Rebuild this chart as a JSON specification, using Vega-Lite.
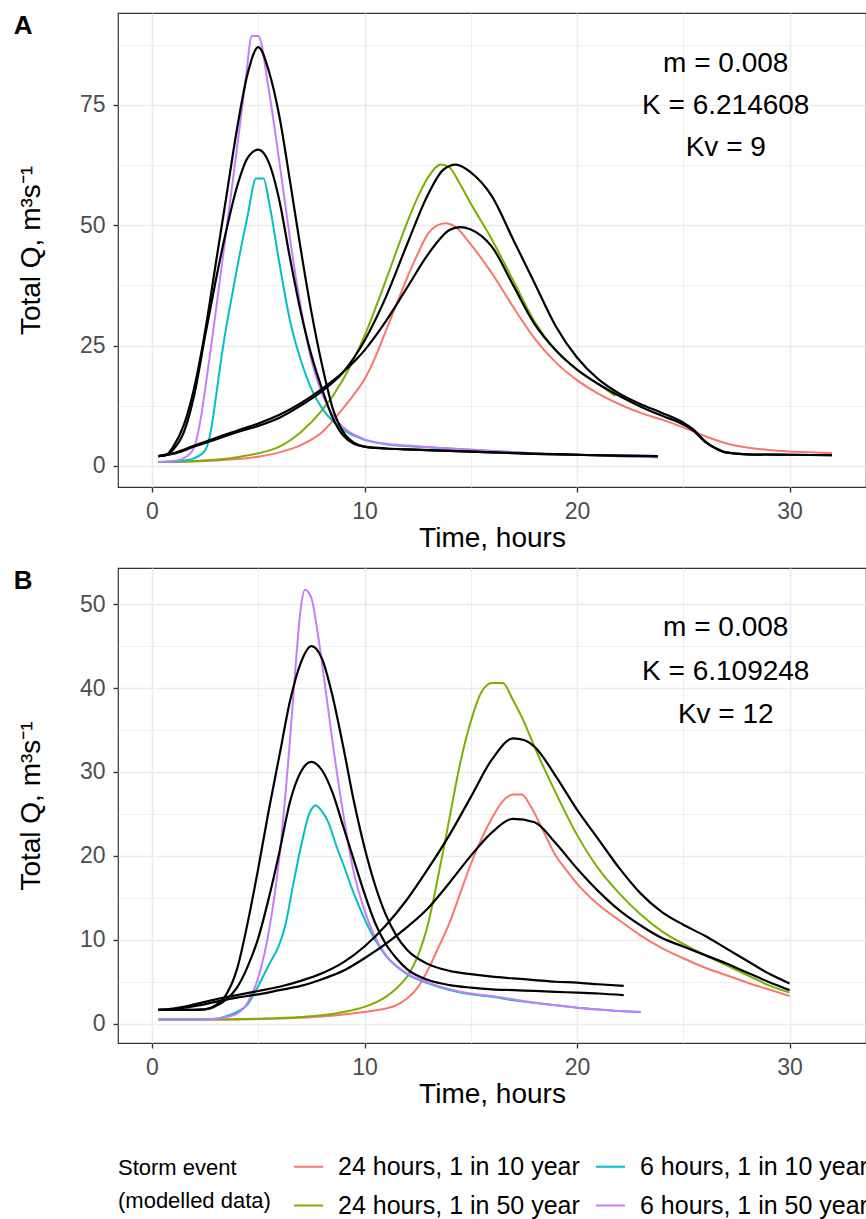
{
  "$schema": "https://vega.github.io/schema/vega-lite/v6.json",
  "background": "white",
  "padding": {"left": 13, "top": 12, "right": 0, "bottom": 0},
  "spacing": 14,
  "config": {
    "font": "Liberation Sans",
    "view": {"stroke": "#333333", "strokeWidth": 1.2},
    "axis": {
      "domain": false,
      "labelFontSize": 23,
      "labelColor": "#4D4D4D",
      "labelFont": "Liberation Sans",
      "titleFontSize": 28,
      "titleFontWeight": "normal",
      "titleColor": "black",
      "titleFont": "Liberation Sans",
      "tickColor": "#333333",
      "tickSize": 5,
      "tickWidth": 1.4,
      "labelPadding": 8,
      "gridColor": "#EBEBEB"
    },
    "legend": {"labelFont": "Liberation Sans", "titleFont": "Liberation Sans"}
  },
  "resolve": {"scale": {"color": "shared"}},
  "datasets": {
    "a": [
      {"kind": "modelled", "storm": "24 hours, 1 in 10 year", "t": 0.3, "q": 0.8},
      {"kind": "modelled", "storm": "24 hours, 1 in 10 year", "t": 2, "q": 0.9},
      {"kind": "modelled", "storm": "24 hours, 1 in 10 year", "t": 4, "q": 1.4},
      {"kind": "modelled", "storm": "24 hours, 1 in 10 year", "t": 5, "q": 1.9},
      {"kind": "modelled", "storm": "24 hours, 1 in 10 year", "t": 6, "q": 2.8},
      {"kind": "modelled", "storm": "24 hours, 1 in 10 year", "t": 7, "q": 4.3},
      {"kind": "modelled", "storm": "24 hours, 1 in 10 year", "t": 8, "q": 7},
      {"kind": "modelled", "storm": "24 hours, 1 in 10 year", "t": 9, "q": 12},
      {"kind": "modelled", "storm": "24 hours, 1 in 10 year", "t": 9.5, "q": 14.8},
      {"kind": "modelled", "storm": "24 hours, 1 in 10 year", "t": 10, "q": 18},
      {"kind": "modelled", "storm": "24 hours, 1 in 10 year", "t": 10.5, "q": 22.5},
      {"kind": "modelled", "storm": "24 hours, 1 in 10 year", "t": 11, "q": 28},
      {"kind": "modelled", "storm": "24 hours, 1 in 10 year", "t": 11.5, "q": 33.5},
      {"kind": "modelled", "storm": "24 hours, 1 in 10 year", "t": 12, "q": 39},
      {"kind": "modelled", "storm": "24 hours, 1 in 10 year", "t": 12.5, "q": 44},
      {"kind": "modelled", "storm": "24 hours, 1 in 10 year", "t": 13, "q": 48.3},
      {"kind": "modelled", "storm": "24 hours, 1 in 10 year", "t": 13.4, "q": 49.9},
      {"kind": "modelled", "storm": "24 hours, 1 in 10 year", "t": 13.8, "q": 50.4},
      {"kind": "modelled", "storm": "24 hours, 1 in 10 year", "t": 14.3, "q": 49.6},
      {"kind": "modelled", "storm": "24 hours, 1 in 10 year", "t": 15, "q": 46},
      {"kind": "modelled", "storm": "24 hours, 1 in 10 year", "t": 16, "q": 40},
      {"kind": "modelled", "storm": "24 hours, 1 in 10 year", "t": 17, "q": 33},
      {"kind": "modelled", "storm": "24 hours, 1 in 10 year", "t": 18, "q": 26.5},
      {"kind": "modelled", "storm": "24 hours, 1 in 10 year", "t": 19, "q": 21.5},
      {"kind": "modelled", "storm": "24 hours, 1 in 10 year", "t": 20, "q": 17.8},
      {"kind": "modelled", "storm": "24 hours, 1 in 10 year", "t": 21, "q": 15},
      {"kind": "modelled", "storm": "24 hours, 1 in 10 year", "t": 22, "q": 12.8},
      {"kind": "modelled", "storm": "24 hours, 1 in 10 year", "t": 23, "q": 11},
      {"kind": "modelled", "storm": "24 hours, 1 in 10 year", "t": 24, "q": 9.6},
      {"kind": "modelled", "storm": "24 hours, 1 in 10 year", "t": 25, "q": 8},
      {"kind": "modelled", "storm": "24 hours, 1 in 10 year", "t": 26, "q": 6.2},
      {"kind": "modelled", "storm": "24 hours, 1 in 10 year", "t": 27, "q": 4.7},
      {"kind": "modelled", "storm": "24 hours, 1 in 10 year", "t": 28, "q": 3.8},
      {"kind": "modelled", "storm": "24 hours, 1 in 10 year", "t": 29, "q": 3.3},
      {"kind": "modelled", "storm": "24 hours, 1 in 10 year", "t": 30, "q": 3.0},
      {"kind": "modelled", "storm": "24 hours, 1 in 10 year", "t": 31, "q": 2.8},
      {"kind": "modelled", "storm": "24 hours, 1 in 10 year", "t": 32, "q": 2.6},

      {"kind": "modelled", "storm": "24 hours, 1 in 50 year", "t": 0.3, "q": 0.8},
      {"kind": "modelled", "storm": "24 hours, 1 in 50 year", "t": 2, "q": 1.0},
      {"kind": "modelled", "storm": "24 hours, 1 in 50 year", "t": 4, "q": 1.8},
      {"kind": "modelled", "storm": "24 hours, 1 in 50 year", "t": 5, "q": 2.6},
      {"kind": "modelled", "storm": "24 hours, 1 in 50 year", "t": 6, "q": 4},
      {"kind": "modelled", "storm": "24 hours, 1 in 50 year", "t": 7, "q": 7},
      {"kind": "modelled", "storm": "24 hours, 1 in 50 year", "t": 8, "q": 11.5},
      {"kind": "modelled", "storm": "24 hours, 1 in 50 year", "t": 9, "q": 18},
      {"kind": "modelled", "storm": "24 hours, 1 in 50 year", "t": 10, "q": 27},
      {"kind": "modelled", "storm": "24 hours, 1 in 50 year", "t": 11, "q": 38.5},
      {"kind": "modelled", "storm": "24 hours, 1 in 50 year", "t": 12, "q": 50.5},
      {"kind": "modelled", "storm": "24 hours, 1 in 50 year", "t": 12.5, "q": 55.8},
      {"kind": "modelled", "storm": "24 hours, 1 in 50 year", "t": 13, "q": 60},
      {"kind": "modelled", "storm": "24 hours, 1 in 50 year", "t": 13.6, "q": 62.6},
      {"kind": "modelled", "storm": "24 hours, 1 in 50 year", "t": 14, "q": 62},
      {"kind": "modelled", "storm": "24 hours, 1 in 50 year", "t": 14.5, "q": 58.5},
      {"kind": "modelled", "storm": "24 hours, 1 in 50 year", "t": 15, "q": 54.5},
      {"kind": "modelled", "storm": "24 hours, 1 in 50 year", "t": 16, "q": 47},
      {"kind": "modelled", "storm": "24 hours, 1 in 50 year", "t": 17, "q": 38.5},
      {"kind": "modelled", "storm": "24 hours, 1 in 50 year", "t": 18, "q": 30},
      {"kind": "modelled", "storm": "24 hours, 1 in 50 year", "t": 19, "q": 24},
      {"kind": "modelled", "storm": "24 hours, 1 in 50 year", "t": 20, "q": 20},
      {"kind": "modelled", "storm": "24 hours, 1 in 50 year", "t": 21, "q": 17},
      {"kind": "modelled", "storm": "24 hours, 1 in 50 year", "t": 21.8, "q": 14.5},

      {"kind": "modelled", "storm": "6 hours, 1 in 10 year", "t": 0.3, "q": 0.8},
      {"kind": "modelled", "storm": "6 hours, 1 in 10 year", "t": 1, "q": 0.9},
      {"kind": "modelled", "storm": "6 hours, 1 in 10 year", "t": 1.5, "q": 1.1},
      {"kind": "modelled", "storm": "6 hours, 1 in 10 year", "t": 2, "q": 1.6},
      {"kind": "modelled", "storm": "6 hours, 1 in 10 year", "t": 2.5, "q": 3.2},
      {"kind": "modelled", "storm": "6 hours, 1 in 10 year", "t": 2.8, "q": 8},
      {"kind": "modelled", "storm": "6 hours, 1 in 10 year", "t": 3, "q": 14},
      {"kind": "modelled", "storm": "6 hours, 1 in 10 year", "t": 3.25, "q": 22},
      {"kind": "modelled", "storm": "6 hours, 1 in 10 year", "t": 3.5, "q": 29},
      {"kind": "modelled", "storm": "6 hours, 1 in 10 year", "t": 3.75, "q": 35},
      {"kind": "modelled", "storm": "6 hours, 1 in 10 year", "t": 4, "q": 41},
      {"kind": "modelled", "storm": "6 hours, 1 in 10 year", "t": 4.5, "q": 52},
      {"kind": "modelled", "storm": "6 hours, 1 in 10 year", "t": 4.9, "q": 59.7},
      {"kind": "modelled", "storm": "6 hours, 1 in 10 year", "t": 5.25, "q": 59.7},
      {"kind": "modelled", "storm": "6 hours, 1 in 10 year", "t": 5.5, "q": 55},
      {"kind": "modelled", "storm": "6 hours, 1 in 10 year", "t": 6, "q": 42},
      {"kind": "modelled", "storm": "6 hours, 1 in 10 year", "t": 6.5, "q": 30},
      {"kind": "modelled", "storm": "6 hours, 1 in 10 year", "t": 7, "q": 22},
      {"kind": "modelled", "storm": "6 hours, 1 in 10 year", "t": 7.5, "q": 16},
      {"kind": "modelled", "storm": "6 hours, 1 in 10 year", "t": 8, "q": 12},
      {"kind": "modelled", "storm": "6 hours, 1 in 10 year", "t": 8.5, "q": 9.3},
      {"kind": "modelled", "storm": "6 hours, 1 in 10 year", "t": 9, "q": 7.5},
      {"kind": "modelled", "storm": "6 hours, 1 in 10 year", "t": 10, "q": 5.4},
      {"kind": "modelled", "storm": "6 hours, 1 in 10 year", "t": 11, "q": 4.5},
      {"kind": "modelled", "storm": "6 hours, 1 in 10 year", "t": 12, "q": 4.1},
      {"kind": "modelled", "storm": "6 hours, 1 in 10 year", "t": 14, "q": 3.6},
      {"kind": "modelled", "storm": "6 hours, 1 in 10 year", "t": 16, "q": 3.1},
      {"kind": "modelled", "storm": "6 hours, 1 in 10 year", "t": 18, "q": 2.6},
      {"kind": "modelled", "storm": "6 hours, 1 in 10 year", "t": 20, "q": 2.3},
      {"kind": "modelled", "storm": "6 hours, 1 in 10 year", "t": 22, "q": 2.0},
      {"kind": "modelled", "storm": "6 hours, 1 in 10 year", "t": 23.8, "q": 1.8},

      {"kind": "modelled", "storm": "6 hours, 1 in 50 year", "t": 0.3, "q": 0.8},
      {"kind": "modelled", "storm": "6 hours, 1 in 50 year", "t": 1, "q": 1.0},
      {"kind": "modelled", "storm": "6 hours, 1 in 50 year", "t": 1.5, "q": 1.6},
      {"kind": "modelled", "storm": "6 hours, 1 in 50 year", "t": 2, "q": 4},
      {"kind": "modelled", "storm": "6 hours, 1 in 50 year", "t": 2.3, "q": 10},
      {"kind": "modelled", "storm": "6 hours, 1 in 50 year", "t": 2.6, "q": 19},
      {"kind": "modelled", "storm": "6 hours, 1 in 50 year", "t": 3, "q": 32},
      {"kind": "modelled", "storm": "6 hours, 1 in 50 year", "t": 3.5, "q": 49},
      {"kind": "modelled", "storm": "6 hours, 1 in 50 year", "t": 4, "q": 66},
      {"kind": "modelled", "storm": "6 hours, 1 in 50 year", "t": 4.4, "q": 80},
      {"kind": "modelled", "storm": "6 hours, 1 in 50 year", "t": 4.7, "q": 89.3},
      {"kind": "modelled", "storm": "6 hours, 1 in 50 year", "t": 5.0, "q": 89.3},
      {"kind": "modelled", "storm": "6 hours, 1 in 50 year", "t": 5.5, "q": 78},
      {"kind": "modelled", "storm": "6 hours, 1 in 50 year", "t": 6, "q": 63},
      {"kind": "modelled", "storm": "6 hours, 1 in 50 year", "t": 6.5, "q": 47},
      {"kind": "modelled", "storm": "6 hours, 1 in 50 year", "t": 7, "q": 33},
      {"kind": "modelled", "storm": "6 hours, 1 in 50 year", "t": 7.5, "q": 22},
      {"kind": "modelled", "storm": "6 hours, 1 in 50 year", "t": 8, "q": 15},
      {"kind": "modelled", "storm": "6 hours, 1 in 50 year", "t": 8.5, "q": 10.5},
      {"kind": "modelled", "storm": "6 hours, 1 in 50 year", "t": 9, "q": 8},
      {"kind": "modelled", "storm": "6 hours, 1 in 50 year", "t": 10, "q": 5.5},
      {"kind": "modelled", "storm": "6 hours, 1 in 50 year", "t": 11, "q": 4.6},
      {"kind": "modelled", "storm": "6 hours, 1 in 50 year", "t": 12, "q": 4.2},
      {"kind": "modelled", "storm": "6 hours, 1 in 50 year", "t": 14, "q": 3.6},
      {"kind": "modelled", "storm": "6 hours, 1 in 50 year", "t": 16, "q": 3.1},
      {"kind": "modelled", "storm": "6 hours, 1 in 50 year", "t": 18, "q": 2.6},
      {"kind": "modelled", "storm": "6 hours, 1 in 50 year", "t": 20, "q": 2.3},
      {"kind": "modelled", "storm": "6 hours, 1 in 50 year", "t": 22, "q": 2.0},
      {"kind": "modelled", "storm": "6 hours, 1 in 50 year", "t": 23.8, "q": 1.8},

      {"kind": "fit", "storm": "6 hours, 1 in 50 year", "t": 0.3, "q": 2.0},
      {"kind": "fit", "storm": "6 hours, 1 in 50 year", "t": 0.7, "q": 2.4},
      {"kind": "fit", "storm": "6 hours, 1 in 50 year", "t": 1, "q": 4.0},
      {"kind": "fit", "storm": "6 hours, 1 in 50 year", "t": 1.5, "q": 8.5},
      {"kind": "fit", "storm": "6 hours, 1 in 50 year", "t": 2, "q": 16.5},
      {"kind": "fit", "storm": "6 hours, 1 in 50 year", "t": 2.5, "q": 28},
      {"kind": "fit", "storm": "6 hours, 1 in 50 year", "t": 3, "q": 42},
      {"kind": "fit", "storm": "6 hours, 1 in 50 year", "t": 3.5, "q": 56},
      {"kind": "fit", "storm": "6 hours, 1 in 50 year", "t": 4, "q": 70},
      {"kind": "fit", "storm": "6 hours, 1 in 50 year", "t": 4.5, "q": 81.5},
      {"kind": "fit", "storm": "6 hours, 1 in 50 year", "t": 5, "q": 87},
      {"kind": "fit", "storm": "6 hours, 1 in 50 year", "t": 5.5, "q": 82},
      {"kind": "fit", "storm": "6 hours, 1 in 50 year", "t": 6, "q": 72.5},
      {"kind": "fit", "storm": "6 hours, 1 in 50 year", "t": 6.5, "q": 59},
      {"kind": "fit", "storm": "6 hours, 1 in 50 year", "t": 7, "q": 45},
      {"kind": "fit", "storm": "6 hours, 1 in 50 year", "t": 7.5, "q": 32},
      {"kind": "fit", "storm": "6 hours, 1 in 50 year", "t": 8, "q": 21},
      {"kind": "fit", "storm": "6 hours, 1 in 50 year", "t": 8.5, "q": 12},
      {"kind": "fit", "storm": "6 hours, 1 in 50 year", "t": 9, "q": 7},
      {"kind": "fit", "storm": "6 hours, 1 in 50 year", "t": 9.5, "q": 4.8},
      {"kind": "fit", "storm": "6 hours, 1 in 50 year", "t": 10, "q": 4.0},
      {"kind": "fit", "storm": "6 hours, 1 in 50 year", "t": 11, "q": 3.6},
      {"kind": "fit", "storm": "6 hours, 1 in 50 year", "t": 12, "q": 3.4},
      {"kind": "fit", "storm": "6 hours, 1 in 50 year", "t": 14, "q": 3.1},
      {"kind": "fit", "storm": "6 hours, 1 in 50 year", "t": 16, "q": 2.8},
      {"kind": "fit", "storm": "6 hours, 1 in 50 year", "t": 18, "q": 2.5},
      {"kind": "fit", "storm": "6 hours, 1 in 50 year", "t": 20, "q": 2.3},
      {"kind": "fit", "storm": "6 hours, 1 in 50 year", "t": 22, "q": 2.1},
      {"kind": "fit", "storm": "6 hours, 1 in 50 year", "t": 23.8, "q": 2.0},

      {"kind": "fit", "storm": "6 hours, 1 in 10 year", "t": 0.3, "q": 2.0},
      {"kind": "fit", "storm": "6 hours, 1 in 10 year", "t": 0.7, "q": 2.3},
      {"kind": "fit", "storm": "6 hours, 1 in 10 year", "t": 1, "q": 3.4},
      {"kind": "fit", "storm": "6 hours, 1 in 10 year", "t": 1.5, "q": 7},
      {"kind": "fit", "storm": "6 hours, 1 in 10 year", "t": 2, "q": 15},
      {"kind": "fit", "storm": "6 hours, 1 in 10 year", "t": 2.5, "q": 27},
      {"kind": "fit", "storm": "6 hours, 1 in 10 year", "t": 3, "q": 38.5},
      {"kind": "fit", "storm": "6 hours, 1 in 10 year", "t": 3.5, "q": 49},
      {"kind": "fit", "storm": "6 hours, 1 in 10 year", "t": 4, "q": 58},
      {"kind": "fit", "storm": "6 hours, 1 in 10 year", "t": 4.5, "q": 64},
      {"kind": "fit", "storm": "6 hours, 1 in 10 year", "t": 5, "q": 65.7},
      {"kind": "fit", "storm": "6 hours, 1 in 10 year", "t": 5.5, "q": 63},
      {"kind": "fit", "storm": "6 hours, 1 in 10 year", "t": 6, "q": 55},
      {"kind": "fit", "storm": "6 hours, 1 in 10 year", "t": 6.5, "q": 43},
      {"kind": "fit", "storm": "6 hours, 1 in 10 year", "t": 7, "q": 32},
      {"kind": "fit", "storm": "6 hours, 1 in 10 year", "t": 7.5, "q": 23},
      {"kind": "fit", "storm": "6 hours, 1 in 10 year", "t": 8, "q": 16},
      {"kind": "fit", "storm": "6 hours, 1 in 10 year", "t": 8.5, "q": 10},
      {"kind": "fit", "storm": "6 hours, 1 in 10 year", "t": 9, "q": 6.3},
      {"kind": "fit", "storm": "6 hours, 1 in 10 year", "t": 9.5, "q": 4.6},
      {"kind": "fit", "storm": "6 hours, 1 in 10 year", "t": 10, "q": 4.0},
      {"kind": "fit", "storm": "6 hours, 1 in 10 year", "t": 11, "q": 3.6},
      {"kind": "fit", "storm": "6 hours, 1 in 10 year", "t": 12, "q": 3.4},
      {"kind": "fit", "storm": "6 hours, 1 in 10 year", "t": 14, "q": 3.1},
      {"kind": "fit", "storm": "6 hours, 1 in 10 year", "t": 16, "q": 2.8},
      {"kind": "fit", "storm": "6 hours, 1 in 10 year", "t": 18, "q": 2.5},
      {"kind": "fit", "storm": "6 hours, 1 in 10 year", "t": 20, "q": 2.3},
      {"kind": "fit", "storm": "6 hours, 1 in 10 year", "t": 22, "q": 2.1},
      {"kind": "fit", "storm": "6 hours, 1 in 10 year", "t": 23.8, "q": 2.0},

      {"kind": "fit", "storm": "24 hours, 1 in 50 year", "t": 0.3, "q": 2.0},
      {"kind": "fit", "storm": "24 hours, 1 in 50 year", "t": 1, "q": 2.5},
      {"kind": "fit", "storm": "24 hours, 1 in 50 year", "t": 2, "q": 4},
      {"kind": "fit", "storm": "24 hours, 1 in 50 year", "t": 3, "q": 5.5},
      {"kind": "fit", "storm": "24 hours, 1 in 50 year", "t": 4, "q": 7},
      {"kind": "fit", "storm": "24 hours, 1 in 50 year", "t": 5, "q": 8.3},
      {"kind": "fit", "storm": "24 hours, 1 in 50 year", "t": 6, "q": 10},
      {"kind": "fit", "storm": "24 hours, 1 in 50 year", "t": 7, "q": 12.5},
      {"kind": "fit", "storm": "24 hours, 1 in 50 year", "t": 8, "q": 15.5},
      {"kind": "fit", "storm": "24 hours, 1 in 50 year", "t": 9, "q": 19.5},
      {"kind": "fit", "storm": "24 hours, 1 in 50 year", "t": 10, "q": 26},
      {"kind": "fit", "storm": "24 hours, 1 in 50 year", "t": 11, "q": 35},
      {"kind": "fit", "storm": "24 hours, 1 in 50 year", "t": 12, "q": 46},
      {"kind": "fit", "storm": "24 hours, 1 in 50 year", "t": 13, "q": 56.5},
      {"kind": "fit", "storm": "24 hours, 1 in 50 year", "t": 13.7, "q": 61.5},
      {"kind": "fit", "storm": "24 hours, 1 in 50 year", "t": 14.3, "q": 62.6},
      {"kind": "fit", "storm": "24 hours, 1 in 50 year", "t": 15, "q": 61},
      {"kind": "fit", "storm": "24 hours, 1 in 50 year", "t": 16, "q": 56},
      {"kind": "fit", "storm": "24 hours, 1 in 50 year", "t": 17, "q": 47},
      {"kind": "fit", "storm": "24 hours, 1 in 50 year", "t": 18, "q": 38},
      {"kind": "fit", "storm": "24 hours, 1 in 50 year", "t": 19, "q": 29},
      {"kind": "fit", "storm": "24 hours, 1 in 50 year", "t": 20, "q": 22.5},
      {"kind": "fit", "storm": "24 hours, 1 in 50 year", "t": 21, "q": 18},
      {"kind": "fit", "storm": "24 hours, 1 in 50 year", "t": 22, "q": 15},
      {"kind": "fit", "storm": "24 hours, 1 in 50 year", "t": 23, "q": 12.8},
      {"kind": "fit", "storm": "24 hours, 1 in 50 year", "t": 24, "q": 11},
      {"kind": "fit", "storm": "24 hours, 1 in 50 year", "t": 25, "q": 9},
      {"kind": "fit", "storm": "24 hours, 1 in 50 year", "t": 25.5, "q": 7.5},
      {"kind": "fit", "storm": "24 hours, 1 in 50 year", "t": 26, "q": 5.2},
      {"kind": "fit", "storm": "24 hours, 1 in 50 year", "t": 26.5, "q": 3.7},
      {"kind": "fit", "storm": "24 hours, 1 in 50 year", "t": 27, "q": 2.8},
      {"kind": "fit", "storm": "24 hours, 1 in 50 year", "t": 28, "q": 2.4},
      {"kind": "fit", "storm": "24 hours, 1 in 50 year", "t": 30, "q": 2.3},
      {"kind": "fit", "storm": "24 hours, 1 in 50 year", "t": 32, "q": 2.2},

      {"kind": "fit", "storm": "24 hours, 1 in 10 year", "t": 0.3, "q": 2.0},
      {"kind": "fit", "storm": "24 hours, 1 in 10 year", "t": 1, "q": 2.6},
      {"kind": "fit", "storm": "24 hours, 1 in 10 year", "t": 2, "q": 4.2},
      {"kind": "fit", "storm": "24 hours, 1 in 10 year", "t": 3, "q": 5.8},
      {"kind": "fit", "storm": "24 hours, 1 in 10 year", "t": 4, "q": 7.3},
      {"kind": "fit", "storm": "24 hours, 1 in 10 year", "t": 5, "q": 8.8},
      {"kind": "fit", "storm": "24 hours, 1 in 10 year", "t": 6, "q": 10.6},
      {"kind": "fit", "storm": "24 hours, 1 in 10 year", "t": 7, "q": 13},
      {"kind": "fit", "storm": "24 hours, 1 in 10 year", "t": 8, "q": 16},
      {"kind": "fit", "storm": "24 hours, 1 in 10 year", "t": 9, "q": 19.5},
      {"kind": "fit", "storm": "24 hours, 1 in 10 year", "t": 10, "q": 24},
      {"kind": "fit", "storm": "24 hours, 1 in 10 year", "t": 11, "q": 30},
      {"kind": "fit", "storm": "24 hours, 1 in 10 year", "t": 12, "q": 37},
      {"kind": "fit", "storm": "24 hours, 1 in 10 year", "t": 13, "q": 44},
      {"kind": "fit", "storm": "24 hours, 1 in 10 year", "t": 14, "q": 49},
      {"kind": "fit", "storm": "24 hours, 1 in 10 year", "t": 14.5, "q": 49.6},
      {"kind": "fit", "storm": "24 hours, 1 in 10 year", "t": 15, "q": 49.1},
      {"kind": "fit", "storm": "24 hours, 1 in 10 year", "t": 15.5, "q": 47.8},
      {"kind": "fit", "storm": "24 hours, 1 in 10 year", "t": 16, "q": 45.5},
      {"kind": "fit", "storm": "24 hours, 1 in 10 year", "t": 17, "q": 37.5},
      {"kind": "fit", "storm": "24 hours, 1 in 10 year", "t": 18, "q": 29.5},
      {"kind": "fit", "storm": "24 hours, 1 in 10 year", "t": 19, "q": 24},
      {"kind": "fit", "storm": "24 hours, 1 in 10 year", "t": 20, "q": 20},
      {"kind": "fit", "storm": "24 hours, 1 in 10 year", "t": 21, "q": 17},
      {"kind": "fit", "storm": "24 hours, 1 in 10 year", "t": 22, "q": 14.5},
      {"kind": "fit", "storm": "24 hours, 1 in 10 year", "t": 23, "q": 12.3},
      {"kind": "fit", "storm": "24 hours, 1 in 10 year", "t": 24, "q": 10.4},
      {"kind": "fit", "storm": "24 hours, 1 in 10 year", "t": 25, "q": 8.6},
      {"kind": "fit", "storm": "24 hours, 1 in 10 year", "t": 25.5, "q": 7.2},
      {"kind": "fit", "storm": "24 hours, 1 in 10 year", "t": 26, "q": 5.1},
      {"kind": "fit", "storm": "24 hours, 1 in 10 year", "t": 26.5, "q": 3.7},
      {"kind": "fit", "storm": "24 hours, 1 in 10 year", "t": 27, "q": 2.8},
      {"kind": "fit", "storm": "24 hours, 1 in 10 year", "t": 28, "q": 2.4},
      {"kind": "fit", "storm": "24 hours, 1 in 10 year", "t": 30, "q": 2.3},
      {"kind": "fit", "storm": "24 hours, 1 in 10 year", "t": 32, "q": 2.2}
    ],
    "b": [
      {"kind": "modelled", "storm": "24 hours, 1 in 10 year", "t": 0.3, "q": 0.5},
      {"kind": "modelled", "storm": "24 hours, 1 in 10 year", "t": 3, "q": 0.5},
      {"kind": "modelled", "storm": "24 hours, 1 in 10 year", "t": 5, "q": 0.55},
      {"kind": "modelled", "storm": "24 hours, 1 in 10 year", "t": 7, "q": 0.7},
      {"kind": "modelled", "storm": "24 hours, 1 in 10 year", "t": 8, "q": 0.85},
      {"kind": "modelled", "storm": "24 hours, 1 in 10 year", "t": 9, "q": 1.1},
      {"kind": "modelled", "storm": "24 hours, 1 in 10 year", "t": 10, "q": 1.4},
      {"kind": "modelled", "storm": "24 hours, 1 in 10 year", "t": 11, "q": 1.8},
      {"kind": "modelled", "storm": "24 hours, 1 in 10 year", "t": 11.5, "q": 2.2},
      {"kind": "modelled", "storm": "24 hours, 1 in 10 year", "t": 12, "q": 3.0},
      {"kind": "modelled", "storm": "24 hours, 1 in 10 year", "t": 12.5, "q": 4.3},
      {"kind": "modelled", "storm": "24 hours, 1 in 10 year", "t": 13, "q": 6.5},
      {"kind": "modelled", "storm": "24 hours, 1 in 10 year", "t": 13.5, "q": 9.2},
      {"kind": "modelled", "storm": "24 hours, 1 in 10 year", "t": 14, "q": 12},
      {"kind": "modelled", "storm": "24 hours, 1 in 10 year", "t": 14.5, "q": 15.5},
      {"kind": "modelled", "storm": "24 hours, 1 in 10 year", "t": 15, "q": 19},
      {"kind": "modelled", "storm": "24 hours, 1 in 10 year", "t": 15.5, "q": 22},
      {"kind": "modelled", "storm": "24 hours, 1 in 10 year", "t": 16, "q": 24.5},
      {"kind": "modelled", "storm": "24 hours, 1 in 10 year", "t": 16.5, "q": 26.5},
      {"kind": "modelled", "storm": "24 hours, 1 in 10 year", "t": 17, "q": 27.3},
      {"kind": "modelled", "storm": "24 hours, 1 in 10 year", "t": 17.4, "q": 27.3},
      {"kind": "modelled", "storm": "24 hours, 1 in 10 year", "t": 17.8, "q": 26},
      {"kind": "modelled", "storm": "24 hours, 1 in 10 year", "t": 18.5, "q": 22.5},
      {"kind": "modelled", "storm": "24 hours, 1 in 10 year", "t": 19, "q": 20},
      {"kind": "modelled", "storm": "24 hours, 1 in 10 year", "t": 19.5, "q": 18.3},
      {"kind": "modelled", "storm": "24 hours, 1 in 10 year", "t": 20, "q": 16.7},
      {"kind": "modelled", "storm": "24 hours, 1 in 10 year", "t": 21, "q": 14.2},
      {"kind": "modelled", "storm": "24 hours, 1 in 10 year", "t": 22, "q": 12.3},
      {"kind": "modelled", "storm": "24 hours, 1 in 10 year", "t": 23, "q": 10.5},
      {"kind": "modelled", "storm": "24 hours, 1 in 10 year", "t": 24, "q": 9.0},
      {"kind": "modelled", "storm": "24 hours, 1 in 10 year", "t": 25, "q": 7.8},
      {"kind": "modelled", "storm": "24 hours, 1 in 10 year", "t": 26, "q": 6.7},
      {"kind": "modelled", "storm": "24 hours, 1 in 10 year", "t": 27, "q": 5.8},
      {"kind": "modelled", "storm": "24 hours, 1 in 10 year", "t": 28, "q": 4.9},
      {"kind": "modelled", "storm": "24 hours, 1 in 10 year", "t": 29, "q": 4.1},
      {"kind": "modelled", "storm": "24 hours, 1 in 10 year", "t": 30, "q": 3.3},

      {"kind": "modelled", "storm": "24 hours, 1 in 50 year", "t": 0.3, "q": 0.5},
      {"kind": "modelled", "storm": "24 hours, 1 in 50 year", "t": 3, "q": 0.5},
      {"kind": "modelled", "storm": "24 hours, 1 in 50 year", "t": 5, "q": 0.6},
      {"kind": "modelled", "storm": "24 hours, 1 in 50 year", "t": 7, "q": 0.8},
      {"kind": "modelled", "storm": "24 hours, 1 in 50 year", "t": 8, "q": 1.0},
      {"kind": "modelled", "storm": "24 hours, 1 in 50 year", "t": 9, "q": 1.4},
      {"kind": "modelled", "storm": "24 hours, 1 in 50 year", "t": 10, "q": 2.0},
      {"kind": "modelled", "storm": "24 hours, 1 in 50 year", "t": 11, "q": 3.2},
      {"kind": "modelled", "storm": "24 hours, 1 in 50 year", "t": 11.5, "q": 4.2},
      {"kind": "modelled", "storm": "24 hours, 1 in 50 year", "t": 12, "q": 5.6},
      {"kind": "modelled", "storm": "24 hours, 1 in 50 year", "t": 12.5, "q": 8},
      {"kind": "modelled", "storm": "24 hours, 1 in 50 year", "t": 13, "q": 12},
      {"kind": "modelled", "storm": "24 hours, 1 in 50 year", "t": 13.5, "q": 18},
      {"kind": "modelled", "storm": "24 hours, 1 in 50 year", "t": 14, "q": 24.5},
      {"kind": "modelled", "storm": "24 hours, 1 in 50 year", "t": 14.5, "q": 31},
      {"kind": "modelled", "storm": "24 hours, 1 in 50 year", "t": 15, "q": 36},
      {"kind": "modelled", "storm": "24 hours, 1 in 50 year", "t": 15.5, "q": 39.5},
      {"kind": "modelled", "storm": "24 hours, 1 in 50 year", "t": 16, "q": 40.6},
      {"kind": "modelled", "storm": "24 hours, 1 in 50 year", "t": 16.5, "q": 40.6},
      {"kind": "modelled", "storm": "24 hours, 1 in 50 year", "t": 17, "q": 38.5},
      {"kind": "modelled", "storm": "24 hours, 1 in 50 year", "t": 17.5, "q": 36},
      {"kind": "modelled", "storm": "24 hours, 1 in 50 year", "t": 18, "q": 33},
      {"kind": "modelled", "storm": "24 hours, 1 in 50 year", "t": 19, "q": 27.5},
      {"kind": "modelled", "storm": "24 hours, 1 in 50 year", "t": 20, "q": 22.5},
      {"kind": "modelled", "storm": "24 hours, 1 in 50 year", "t": 21, "q": 18.5},
      {"kind": "modelled", "storm": "24 hours, 1 in 50 year", "t": 22, "q": 15.5},
      {"kind": "modelled", "storm": "24 hours, 1 in 50 year", "t": 23, "q": 13},
      {"kind": "modelled", "storm": "24 hours, 1 in 50 year", "t": 24, "q": 11},
      {"kind": "modelled", "storm": "24 hours, 1 in 50 year", "t": 25, "q": 9.5},
      {"kind": "modelled", "storm": "24 hours, 1 in 50 year", "t": 26, "q": 8.2},
      {"kind": "modelled", "storm": "24 hours, 1 in 50 year", "t": 27, "q": 7},
      {"kind": "modelled", "storm": "24 hours, 1 in 50 year", "t": 28, "q": 5.8},
      {"kind": "modelled", "storm": "24 hours, 1 in 50 year", "t": 29, "q": 4.6},
      {"kind": "modelled", "storm": "24 hours, 1 in 50 year", "t": 30, "q": 3.7},

      {"kind": "modelled", "storm": "6 hours, 1 in 10 year", "t": 0.3, "q": 0.5},
      {"kind": "modelled", "storm": "6 hours, 1 in 10 year", "t": 2, "q": 0.5},
      {"kind": "modelled", "storm": "6 hours, 1 in 10 year", "t": 3, "q": 0.6},
      {"kind": "modelled", "storm": "6 hours, 1 in 10 year", "t": 3.5, "q": 0.9},
      {"kind": "modelled", "storm": "6 hours, 1 in 10 year", "t": 4, "q": 1.4},
      {"kind": "modelled", "storm": "6 hours, 1 in 10 year", "t": 4.5, "q": 2.3},
      {"kind": "modelled", "storm": "6 hours, 1 in 10 year", "t": 5, "q": 4.5},
      {"kind": "modelled", "storm": "6 hours, 1 in 10 year", "t": 5.5, "q": 7},
      {"kind": "modelled", "storm": "6 hours, 1 in 10 year", "t": 6, "q": 9.5},
      {"kind": "modelled", "storm": "6 hours, 1 in 10 year", "t": 6.3, "q": 12},
      {"kind": "modelled", "storm": "6 hours, 1 in 10 year", "t": 6.6, "q": 16},
      {"kind": "modelled", "storm": "6 hours, 1 in 10 year", "t": 7, "q": 21},
      {"kind": "modelled", "storm": "6 hours, 1 in 10 year", "t": 7.4, "q": 25},
      {"kind": "modelled", "storm": "6 hours, 1 in 10 year", "t": 7.7, "q": 26},
      {"kind": "modelled", "storm": "6 hours, 1 in 10 year", "t": 8, "q": 25.3},
      {"kind": "modelled", "storm": "6 hours, 1 in 10 year", "t": 8.3, "q": 24},
      {"kind": "modelled", "storm": "6 hours, 1 in 10 year", "t": 8.7, "q": 21},
      {"kind": "modelled", "storm": "6 hours, 1 in 10 year", "t": 9, "q": 19},
      {"kind": "modelled", "storm": "6 hours, 1 in 10 year", "t": 9.5, "q": 15.5},
      {"kind": "modelled", "storm": "6 hours, 1 in 10 year", "t": 10, "q": 12.5},
      {"kind": "modelled", "storm": "6 hours, 1 in 10 year", "t": 10.5, "q": 10},
      {"kind": "modelled", "storm": "6 hours, 1 in 10 year", "t": 11, "q": 8.1},
      {"kind": "modelled", "storm": "6 hours, 1 in 10 year", "t": 12, "q": 5.9},
      {"kind": "modelled", "storm": "6 hours, 1 in 10 year", "t": 13, "q": 4.8},
      {"kind": "modelled", "storm": "6 hours, 1 in 10 year", "t": 14, "q": 4.0},
      {"kind": "modelled", "storm": "6 hours, 1 in 10 year", "t": 15, "q": 3.5},
      {"kind": "modelled", "storm": "6 hours, 1 in 10 year", "t": 16, "q": 3.2},
      {"kind": "modelled", "storm": "6 hours, 1 in 10 year", "t": 17, "q": 2.8},
      {"kind": "modelled", "storm": "6 hours, 1 in 10 year", "t": 18, "q": 2.5},
      {"kind": "modelled", "storm": "6 hours, 1 in 10 year", "t": 19, "q": 2.2},
      {"kind": "modelled", "storm": "6 hours, 1 in 10 year", "t": 20, "q": 1.9},
      {"kind": "modelled", "storm": "6 hours, 1 in 10 year", "t": 21, "q": 1.7},
      {"kind": "modelled", "storm": "6 hours, 1 in 10 year", "t": 22, "q": 1.5},
      {"kind": "modelled", "storm": "6 hours, 1 in 10 year", "t": 23, "q": 1.4},

      {"kind": "modelled", "storm": "6 hours, 1 in 50 year", "t": 0.3, "q": 0.5},
      {"kind": "modelled", "storm": "6 hours, 1 in 50 year", "t": 2, "q": 0.5},
      {"kind": "modelled", "storm": "6 hours, 1 in 50 year", "t": 3, "q": 0.6},
      {"kind": "modelled", "storm": "6 hours, 1 in 50 year", "t": 3.5, "q": 0.8},
      {"kind": "modelled", "storm": "6 hours, 1 in 50 year", "t": 4, "q": 1.2},
      {"kind": "modelled", "storm": "6 hours, 1 in 50 year", "t": 4.5, "q": 2.5},
      {"kind": "modelled", "storm": "6 hours, 1 in 50 year", "t": 5, "q": 5.5},
      {"kind": "modelled", "storm": "6 hours, 1 in 50 year", "t": 5.5, "q": 11},
      {"kind": "modelled", "storm": "6 hours, 1 in 50 year", "t": 6, "q": 20},
      {"kind": "modelled", "storm": "6 hours, 1 in 50 year", "t": 6.5, "q": 34},
      {"kind": "modelled", "storm": "6 hours, 1 in 50 year", "t": 6.8, "q": 44},
      {"kind": "modelled", "storm": "6 hours, 1 in 50 year", "t": 7.0, "q": 49.5},
      {"kind": "modelled", "storm": "6 hours, 1 in 50 year", "t": 7.2, "q": 51.7},
      {"kind": "modelled", "storm": "6 hours, 1 in 50 year", "t": 7.5, "q": 50.7},
      {"kind": "modelled", "storm": "6 hours, 1 in 50 year", "t": 7.8, "q": 46.5},
      {"kind": "modelled", "storm": "6 hours, 1 in 50 year", "t": 8, "q": 43},
      {"kind": "modelled", "storm": "6 hours, 1 in 50 year", "t": 8.5, "q": 33.5},
      {"kind": "modelled", "storm": "6 hours, 1 in 50 year", "t": 9, "q": 25},
      {"kind": "modelled", "storm": "6 hours, 1 in 50 year", "t": 9.5, "q": 18},
      {"kind": "modelled", "storm": "6 hours, 1 in 50 year", "t": 10, "q": 13.5},
      {"kind": "modelled", "storm": "6 hours, 1 in 50 year", "t": 10.5, "q": 10.3},
      {"kind": "modelled", "storm": "6 hours, 1 in 50 year", "t": 11, "q": 8.2},
      {"kind": "modelled", "storm": "6 hours, 1 in 50 year", "t": 12, "q": 6},
      {"kind": "modelled", "storm": "6 hours, 1 in 50 year", "t": 13, "q": 4.9},
      {"kind": "modelled", "storm": "6 hours, 1 in 50 year", "t": 14, "q": 4.1},
      {"kind": "modelled", "storm": "6 hours, 1 in 50 year", "t": 15, "q": 3.6},
      {"kind": "modelled", "storm": "6 hours, 1 in 50 year", "t": 16, "q": 3.3},
      {"kind": "modelled", "storm": "6 hours, 1 in 50 year", "t": 17, "q": 2.9},
      {"kind": "modelled", "storm": "6 hours, 1 in 50 year", "t": 18, "q": 2.5},
      {"kind": "modelled", "storm": "6 hours, 1 in 50 year", "t": 19, "q": 2.2},
      {"kind": "modelled", "storm": "6 hours, 1 in 50 year", "t": 20, "q": 1.9},
      {"kind": "modelled", "storm": "6 hours, 1 in 50 year", "t": 21, "q": 1.7},
      {"kind": "modelled", "storm": "6 hours, 1 in 50 year", "t": 22, "q": 1.5},
      {"kind": "modelled", "storm": "6 hours, 1 in 50 year", "t": 23, "q": 1.4},

      {"kind": "fit", "storm": "6 hours, 1 in 50 year", "t": 0.3, "q": 1.65},
      {"kind": "fit", "storm": "6 hours, 1 in 50 year", "t": 1, "q": 1.65},
      {"kind": "fit", "storm": "6 hours, 1 in 50 year", "t": 2, "q": 1.65},
      {"kind": "fit", "storm": "6 hours, 1 in 50 year", "t": 2.5, "q": 1.7},
      {"kind": "fit", "storm": "6 hours, 1 in 50 year", "t": 3, "q": 2.2},
      {"kind": "fit", "storm": "6 hours, 1 in 50 year", "t": 3.5, "q": 3.5},
      {"kind": "fit", "storm": "6 hours, 1 in 50 year", "t": 4, "q": 6.5},
      {"kind": "fit", "storm": "6 hours, 1 in 50 year", "t": 4.5, "q": 12},
      {"kind": "fit", "storm": "6 hours, 1 in 50 year", "t": 5, "q": 18.5},
      {"kind": "fit", "storm": "6 hours, 1 in 50 year", "t": 5.5, "q": 25.5},
      {"kind": "fit", "storm": "6 hours, 1 in 50 year", "t": 6, "q": 32},
      {"kind": "fit", "storm": "6 hours, 1 in 50 year", "t": 6.5, "q": 38.5},
      {"kind": "fit", "storm": "6 hours, 1 in 50 year", "t": 7, "q": 43},
      {"kind": "fit", "storm": "6 hours, 1 in 50 year", "t": 7.5, "q": 45},
      {"kind": "fit", "storm": "6 hours, 1 in 50 year", "t": 8, "q": 43.5},
      {"kind": "fit", "storm": "6 hours, 1 in 50 year", "t": 8.5, "q": 39},
      {"kind": "fit", "storm": "6 hours, 1 in 50 year", "t": 9, "q": 33},
      {"kind": "fit", "storm": "6 hours, 1 in 50 year", "t": 9.5, "q": 26.5},
      {"kind": "fit", "storm": "6 hours, 1 in 50 year", "t": 10, "q": 21},
      {"kind": "fit", "storm": "6 hours, 1 in 50 year", "t": 10.5, "q": 16.5},
      {"kind": "fit", "storm": "6 hours, 1 in 50 year", "t": 11, "q": 13},
      {"kind": "fit", "storm": "6 hours, 1 in 50 year", "t": 11.5, "q": 10.5},
      {"kind": "fit", "storm": "6 hours, 1 in 50 year", "t": 12, "q": 8.8},
      {"kind": "fit", "storm": "6 hours, 1 in 50 year", "t": 13, "q": 7.1},
      {"kind": "fit", "storm": "6 hours, 1 in 50 year", "t": 14, "q": 6.3},
      {"kind": "fit", "storm": "6 hours, 1 in 50 year", "t": 15, "q": 5.9},
      {"kind": "fit", "storm": "6 hours, 1 in 50 year", "t": 16, "q": 5.6},
      {"kind": "fit", "storm": "6 hours, 1 in 50 year", "t": 17, "q": 5.4},
      {"kind": "fit", "storm": "6 hours, 1 in 50 year", "t": 18, "q": 5.2},
      {"kind": "fit", "storm": "6 hours, 1 in 50 year", "t": 19, "q": 5.0},
      {"kind": "fit", "storm": "6 hours, 1 in 50 year", "t": 20, "q": 4.9},
      {"kind": "fit", "storm": "6 hours, 1 in 50 year", "t": 21, "q": 4.7},
      {"kind": "fit", "storm": "6 hours, 1 in 50 year", "t": 22.2, "q": 4.5},

      {"kind": "fit", "storm": "6 hours, 1 in 10 year", "t": 0.3, "q": 1.65},
      {"kind": "fit", "storm": "6 hours, 1 in 10 year", "t": 1, "q": 1.65},
      {"kind": "fit", "storm": "6 hours, 1 in 10 year", "t": 2, "q": 1.65},
      {"kind": "fit", "storm": "6 hours, 1 in 10 year", "t": 2.5, "q": 1.7},
      {"kind": "fit", "storm": "6 hours, 1 in 10 year", "t": 3, "q": 2.1},
      {"kind": "fit", "storm": "6 hours, 1 in 10 year", "t": 3.5, "q": 2.9},
      {"kind": "fit", "storm": "6 hours, 1 in 10 year", "t": 4, "q": 4.3},
      {"kind": "fit", "storm": "6 hours, 1 in 10 year", "t": 4.5, "q": 6.8},
      {"kind": "fit", "storm": "6 hours, 1 in 10 year", "t": 5, "q": 10.2},
      {"kind": "fit", "storm": "6 hours, 1 in 10 year", "t": 5.5, "q": 15},
      {"kind": "fit", "storm": "6 hours, 1 in 10 year", "t": 6, "q": 20.5},
      {"kind": "fit", "storm": "6 hours, 1 in 10 year", "t": 6.5, "q": 26.5},
      {"kind": "fit", "storm": "6 hours, 1 in 10 year", "t": 7, "q": 30},
      {"kind": "fit", "storm": "6 hours, 1 in 10 year", "t": 7.5, "q": 31.2},
      {"kind": "fit", "storm": "6 hours, 1 in 10 year", "t": 8, "q": 30.2},
      {"kind": "fit", "storm": "6 hours, 1 in 10 year", "t": 8.5, "q": 27.5},
      {"kind": "fit", "storm": "6 hours, 1 in 10 year", "t": 9, "q": 23.5},
      {"kind": "fit", "storm": "6 hours, 1 in 10 year", "t": 9.5, "q": 19.5},
      {"kind": "fit", "storm": "6 hours, 1 in 10 year", "t": 10, "q": 15.5},
      {"kind": "fit", "storm": "6 hours, 1 in 10 year", "t": 10.5, "q": 12},
      {"kind": "fit", "storm": "6 hours, 1 in 10 year", "t": 11, "q": 9.5},
      {"kind": "fit", "storm": "6 hours, 1 in 10 year", "t": 11.5, "q": 7.8},
      {"kind": "fit", "storm": "6 hours, 1 in 10 year", "t": 12, "q": 6.5},
      {"kind": "fit", "storm": "6 hours, 1 in 10 year", "t": 13, "q": 5.2},
      {"kind": "fit", "storm": "6 hours, 1 in 10 year", "t": 14, "q": 4.6},
      {"kind": "fit", "storm": "6 hours, 1 in 10 year", "t": 15, "q": 4.3},
      {"kind": "fit", "storm": "6 hours, 1 in 10 year", "t": 16, "q": 4.1},
      {"kind": "fit", "storm": "6 hours, 1 in 10 year", "t": 17, "q": 4.0},
      {"kind": "fit", "storm": "6 hours, 1 in 10 year", "t": 18, "q": 3.9},
      {"kind": "fit", "storm": "6 hours, 1 in 10 year", "t": 19, "q": 3.8},
      {"kind": "fit", "storm": "6 hours, 1 in 10 year", "t": 20, "q": 3.7},
      {"kind": "fit", "storm": "6 hours, 1 in 10 year", "t": 21, "q": 3.6},
      {"kind": "fit", "storm": "6 hours, 1 in 10 year", "t": 22.2, "q": 3.4},

      {"kind": "fit", "storm": "24 hours, 1 in 50 year", "t": 0.3, "q": 1.65},
      {"kind": "fit", "storm": "24 hours, 1 in 50 year", "t": 1, "q": 1.8},
      {"kind": "fit", "storm": "24 hours, 1 in 50 year", "t": 2, "q": 2.3},
      {"kind": "fit", "storm": "24 hours, 1 in 50 year", "t": 3, "q": 2.9},
      {"kind": "fit", "storm": "24 hours, 1 in 50 year", "t": 4, "q": 3.4},
      {"kind": "fit", "storm": "24 hours, 1 in 50 year", "t": 5, "q": 3.9},
      {"kind": "fit", "storm": "24 hours, 1 in 50 year", "t": 6, "q": 4.4},
      {"kind": "fit", "storm": "24 hours, 1 in 50 year", "t": 7, "q": 5.1},
      {"kind": "fit", "storm": "24 hours, 1 in 50 year", "t": 8, "q": 6.0},
      {"kind": "fit", "storm": "24 hours, 1 in 50 year", "t": 9, "q": 7.3},
      {"kind": "fit", "storm": "24 hours, 1 in 50 year", "t": 10, "q": 9.2},
      {"kind": "fit", "storm": "24 hours, 1 in 50 year", "t": 11, "q": 11.7},
      {"kind": "fit", "storm": "24 hours, 1 in 50 year", "t": 12, "q": 14.8},
      {"kind": "fit", "storm": "24 hours, 1 in 50 year", "t": 13, "q": 18.5},
      {"kind": "fit", "storm": "24 hours, 1 in 50 year", "t": 14, "q": 22.5},
      {"kind": "fit", "storm": "24 hours, 1 in 50 year", "t": 15, "q": 27},
      {"kind": "fit", "storm": "24 hours, 1 in 50 year", "t": 16, "q": 31.5},
      {"kind": "fit", "storm": "24 hours, 1 in 50 year", "t": 17, "q": 34},
      {"kind": "fit", "storm": "24 hours, 1 in 50 year", "t": 17.5, "q": 33.8},
      {"kind": "fit", "storm": "24 hours, 1 in 50 year", "t": 18, "q": 33},
      {"kind": "fit", "storm": "24 hours, 1 in 50 year", "t": 19, "q": 29.5},
      {"kind": "fit", "storm": "24 hours, 1 in 50 year", "t": 20, "q": 25.5},
      {"kind": "fit", "storm": "24 hours, 1 in 50 year", "t": 21, "q": 22},
      {"kind": "fit", "storm": "24 hours, 1 in 50 year", "t": 22, "q": 18.5},
      {"kind": "fit", "storm": "24 hours, 1 in 50 year", "t": 23, "q": 15.5},
      {"kind": "fit", "storm": "24 hours, 1 in 50 year", "t": 24, "q": 13.3},
      {"kind": "fit", "storm": "24 hours, 1 in 50 year", "t": 25, "q": 11.8},
      {"kind": "fit", "storm": "24 hours, 1 in 50 year", "t": 26, "q": 10.5},
      {"kind": "fit", "storm": "24 hours, 1 in 50 year", "t": 27, "q": 9},
      {"kind": "fit", "storm": "24 hours, 1 in 50 year", "t": 28, "q": 7.5},
      {"kind": "fit", "storm": "24 hours, 1 in 50 year", "t": 29, "q": 6},
      {"kind": "fit", "storm": "24 hours, 1 in 50 year", "t": 30, "q": 4.8},

      {"kind": "fit", "storm": "24 hours, 1 in 10 year", "t": 0.3, "q": 1.65},
      {"kind": "fit", "storm": "24 hours, 1 in 10 year", "t": 1, "q": 1.75},
      {"kind": "fit", "storm": "24 hours, 1 in 10 year", "t": 2, "q": 2.1},
      {"kind": "fit", "storm": "24 hours, 1 in 10 year", "t": 3, "q": 2.6},
      {"kind": "fit", "storm": "24 hours, 1 in 10 year", "t": 4, "q": 3.1},
      {"kind": "fit", "storm": "24 hours, 1 in 10 year", "t": 5, "q": 3.5},
      {"kind": "fit", "storm": "24 hours, 1 in 10 year", "t": 6, "q": 4.0},
      {"kind": "fit", "storm": "24 hours, 1 in 10 year", "t": 7, "q": 4.5},
      {"kind": "fit", "storm": "24 hours, 1 in 10 year", "t": 8, "q": 5.3},
      {"kind": "fit", "storm": "24 hours, 1 in 10 year", "t": 9, "q": 6.3},
      {"kind": "fit", "storm": "24 hours, 1 in 10 year", "t": 10, "q": 7.8},
      {"kind": "fit", "storm": "24 hours, 1 in 10 year", "t": 11, "q": 9.5},
      {"kind": "fit", "storm": "24 hours, 1 in 10 year", "t": 12, "q": 11.5},
      {"kind": "fit", "storm": "24 hours, 1 in 10 year", "t": 13, "q": 13.8},
      {"kind": "fit", "storm": "24 hours, 1 in 10 year", "t": 14, "q": 16.8},
      {"kind": "fit", "storm": "24 hours, 1 in 10 year", "t": 15, "q": 20},
      {"kind": "fit", "storm": "24 hours, 1 in 10 year", "t": 16, "q": 22.8},
      {"kind": "fit", "storm": "24 hours, 1 in 10 year", "t": 17, "q": 24.4},
      {"kind": "fit", "storm": "24 hours, 1 in 10 year", "t": 18, "q": 24},
      {"kind": "fit", "storm": "24 hours, 1 in 10 year", "t": 19, "q": 21.5},
      {"kind": "fit", "storm": "24 hours, 1 in 10 year", "t": 20, "q": 18.5},
      {"kind": "fit", "storm": "24 hours, 1 in 10 year", "t": 21, "q": 15.8},
      {"kind": "fit", "storm": "24 hours, 1 in 10 year", "t": 22, "q": 13.5},
      {"kind": "fit", "storm": "24 hours, 1 in 10 year", "t": 23, "q": 11.7},
      {"kind": "fit", "storm": "24 hours, 1 in 10 year", "t": 24, "q": 10.2},
      {"kind": "fit", "storm": "24 hours, 1 in 10 year", "t": 25, "q": 9.2},
      {"kind": "fit", "storm": "24 hours, 1 in 10 year", "t": 26, "q": 8.2},
      {"kind": "fit", "storm": "24 hours, 1 in 10 year", "t": 27, "q": 7.2},
      {"kind": "fit", "storm": "24 hours, 1 in 10 year", "t": 28, "q": 6.1},
      {"kind": "fit", "storm": "24 hours, 1 in 10 year", "t": 29, "q": 5},
      {"kind": "fit", "storm": "24 hours, 1 in 10 year", "t": 30, "q": 4.0}
    ],
    "notesA": [
      {"t": 27, "q": 83.6, "label": "m = 0.008"},
      {"t": 27, "q": 74.8, "label": "K = 6.214608"},
      {"t": 27, "q": 66.0, "label": "Kv = 9"}
    ],
    "notesB": [
      {"t": 27, "q": 47.1, "label": "m = 0.008"},
      {"t": 27, "q": 41.9, "label": "K = 6.109248"},
      {"t": 27, "q": 36.8, "label": "Kv = 12"}
    ]
  },
  "vconcat": [
    {
      "width": 748,
      "height": 474,
      "title": {"text": "A", "orient": "left", "anchor": "end", "frame": "group", "angle": 0, "align": "right", "baseline": "top", "offset": -34, "fontSize": 26, "fontWeight": "bold", "color": "black"},
      "layer": [
        {
          "data": {"name": "a"},
          "transform": [{"filter": "datum.kind == 'modelled'"}],
          "mark": {"type": "line", "strokeWidth": 2, "interpolate": "monotone"},
          "encoding": {
            "x": {"field": "t", "type": "quantitative", "scale": {"domain": [-1.6, 33.6], "nice": false, "zero": false},
              "axis": {"title": "Time, hours", "titlePadding": 1, "values": [0, 5, 10, 15, 20, 25, 30],
                "labelExpr": "datum.value % 10 == 0 ? datum.label : ''",
                "tickOpacity": {"condition": {"test": "datum.value % 10 == 0", "value": 1}, "value": 0},
                "gridWidth": {"condition": {"test": "datum.value % 10 == 0", "value": 1.6}, "value": 0.8}}},
            "y": {"field": "q", "type": "quantitative", "scale": {"domain": [-4.4, 94.1], "nice": false, "zero": false},
              "axis": {"title": "Total Q, m³s⁻¹", "titlePadding": 34, "values": [0, 12.5, 25, 37.5, 50, 62.5, 75, 87.5],
                "labelExpr": "datum.value % 25 == 0 ? datum.label : ''",
                "tickOpacity": {"condition": {"test": "datum.value % 25 == 0", "value": 1}, "value": 0},
                "gridWidth": {"condition": {"test": "datum.value % 25 == 0", "value": 1.6}, "value": 0.8}}},
            "color": {"field": "storm", "type": "nominal",
              "scale": {"domain": ["24 hours, 1 in 10 year", "6 hours, 1 in 10 year", "24 hours, 1 in 50 year", "6 hours, 1 in 50 year"],
                "range": ["#F8766D", "#00BFC4", "#7CAE00", "#C77CFF"]},
              "legend": {"orient": "bottom", "direction": "horizontal", "columns": 2,
                "title": ["Storm event", "(modelled data)"], "titleOrient": "left", "titleFontSize": 22, "titleFontWeight": "normal",
                "titleColor": "black", "titleLineHeight": 33, "titlePadding": 22, "titleAnchor": "middle", "titleBaseline": "middle",
                "labelFontSize": 25, "labelColor": "black", "labelLimit": 400, "symbolType": "stroke", "symbolSize": 841, "symbolStrokeWidth": 2,
                "labelOffset": 14, "columnPadding": 12, "rowPadding": 10, "offset": 42}}
          }
        },
        {
          "data": {"name": "a"},
          "transform": [{"filter": "datum.kind == 'fit'"}],
          "mark": {"type": "line", "strokeWidth": 2.2, "color": "black", "interpolate": "monotone"},
          "encoding": {
            "x": {"field": "t", "type": "quantitative"},
            "y": {"field": "q", "type": "quantitative"},
            "detail": {"field": "storm", "type": "nominal"}
          }
        },
        {
          "data": {"name": "notesA"},
          "mark": {"type": "text", "fontSize": 28, "color": "black", "align": "center", "baseline": "middle"},
          "encoding": {
            "x": {"field": "t", "type": "quantitative"},
            "y": {"field": "q", "type": "quantitative"},
            "text": {"field": "label", "type": "nominal"}
          }
        }
      ]
    },
    {
      "width": 748,
      "height": 475,
      "title": {"text": "B", "orient": "left", "anchor": "end", "frame": "group", "angle": 0, "align": "right", "baseline": "top", "offset": -34, "fontSize": 26, "fontWeight": "bold", "color": "black"},
      "layer": [
        {
          "data": {"name": "b"},
          "transform": [{"filter": "datum.kind == 'modelled'"}],
          "mark": {"type": "line", "strokeWidth": 2, "interpolate": "monotone"},
          "encoding": {
            "x": {"field": "t", "type": "quantitative", "scale": {"domain": [-1.6, 33.6], "nice": false, "zero": false},
              "axis": {"title": "Time, hours", "titlePadding": 1, "values": [0, 5, 10, 15, 20, 25, 30],
                "labelExpr": "datum.value % 10 == 0 ? datum.label : ''",
                "tickOpacity": {"condition": {"test": "datum.value % 10 == 0", "value": 1}, "value": 0},
                "gridWidth": {"condition": {"test": "datum.value % 10 == 0", "value": 1.6}, "value": 0.8}}},
            "y": {"field": "q", "type": "quantitative", "scale": {"domain": [-2.3, 54.3], "nice": false, "zero": false},
              "axis": {"title": "Total Q, m³s⁻¹", "titlePadding": 34, "values": [0, 5, 10, 15, 20, 25, 30, 35, 40, 45, 50],
                "labelExpr": "datum.value % 10 == 0 ? datum.label : ''",
                "tickOpacity": {"condition": {"test": "datum.value % 10 == 0", "value": 1}, "value": 0},
                "gridWidth": {"condition": {"test": "datum.value % 10 == 0", "value": 1.6}, "value": 0.8}}},
            "color": {"field": "storm", "type": "nominal",
              "scale": {"domain": ["24 hours, 1 in 10 year", "6 hours, 1 in 10 year", "24 hours, 1 in 50 year", "6 hours, 1 in 50 year"],
                "range": ["#F8766D", "#00BFC4", "#7CAE00", "#C77CFF"]},
              "legend": {"orient": "bottom", "direction": "horizontal", "columns": 2,
                "title": ["Storm event", "(modelled data)"], "titleOrient": "left", "titleFontSize": 22, "titleFontWeight": "normal",
                "titleColor": "black", "titleLineHeight": 33, "titlePadding": 22, "titleAnchor": "middle", "titleBaseline": "middle",
                "labelFontSize": 25, "labelColor": "black", "labelLimit": 400, "symbolType": "stroke", "symbolSize": 841, "symbolStrokeWidth": 2,
                "labelOffset": 14, "columnPadding": 12, "rowPadding": 10, "offset": 42}}
          }
        },
        {
          "data": {"name": "b"},
          "transform": [{"filter": "datum.kind == 'fit'"}],
          "mark": {"type": "line", "strokeWidth": 2.2, "color": "black", "interpolate": "monotone"},
          "encoding": {
            "x": {"field": "t", "type": "quantitative"},
            "y": {"field": "q", "type": "quantitative"},
            "detail": {"field": "storm", "type": "nominal"}
          }
        },
        {
          "data": {"name": "notesB"},
          "mark": {"type": "text", "fontSize": 28, "color": "black", "align": "center", "baseline": "middle"},
          "encoding": {
            "x": {"field": "t", "type": "quantitative"},
            "y": {"field": "q", "type": "quantitative"},
            "text": {"field": "label", "type": "nominal"}
          }
        }
      ]
    }
  ]
}
